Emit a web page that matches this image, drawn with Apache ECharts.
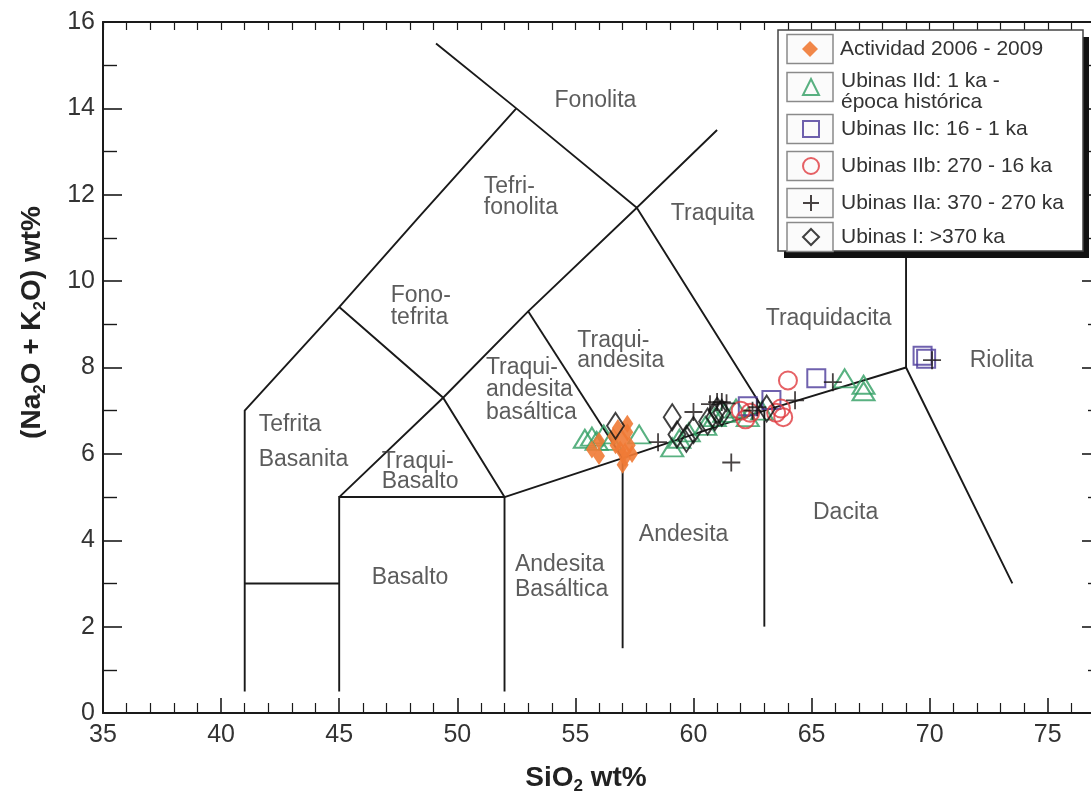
<!DOCTYPE html>
<html>
<head>
<meta charset="utf-8">
<script src="https://cdn.jsdelivr.net/npm/echarts@6/dist/echarts.min.js"></script>
<style>
  html, body { margin: 0; padding: 0; background: #ffffff; }
  #chart { width: 1091px; height: 804px; }
</style>
</head>
<body>
<div id="chart"></div>
<script>
// Diagrama TAS (álcalis total vs. sílice) – volcán Ubinas

// Series names (legend order)
const seriesNames = [
  'Actividad 2006 - 2009',
  'Ubinas IId: 1 ka -\népoca histórica',
  'Ubinas IIc: 16 - 1 ka',
  'Ubinas IIb: 270 - 16 ka',
  'Ubinas IIa: 370 - 270 ka',
  'Ubinas I: >370 ka'
];

// [SiO2 wt%, Na2O+K2O wt%]
const actividad = [
  [55.7, 6.10], [56.0, 6.30], [56.0, 5.95], [56.6, 6.40], [56.8, 6.60],
  [56.9, 6.10], [57.0, 6.35], [57.1, 5.90], [57.2, 6.50], [57.3, 6.20],
  [57.0, 5.75], [57.4, 6.00], [56.7, 6.20], [57.2, 6.70], [57.1, 6.05]
];
const ubinasIId = [
  [55.4, 6.35], [55.7, 6.40], [55.9, 6.30], [56.2, 6.45], [56.5, 6.30],
  [57.7, 6.45], [59.1, 6.15], [59.4, 6.35], [59.8, 6.50], [60.5, 6.65],
  [60.9, 6.85], [61.3, 6.95], [61.8, 7.05], [62.3, 6.85], [62.9, 7.00],
  [66.4, 7.75], [67.2, 7.45], [67.2, 7.60]
];
const ubinasIIc = [
  [62.3, 7.10], [63.3, 7.25], [65.2, 7.75], [69.7, 8.27], [69.85, 8.20]
];
const ubinasIIb = [
  [62.0, 7.00], [62.2, 6.80], [62.4, 6.95], [63.5, 6.95], [63.8, 6.85],
  [63.7, 7.05], [64.0, 7.70]
];
const ubinasIIa = [
  [58.5, 6.27], [60.0, 6.97], [60.7, 7.15], [61.0, 7.20], [61.2, 7.20],
  [61.4, 7.17], [62.5, 7.00], [62.7, 7.08], [61.6, 5.80], [64.3, 7.24],
  [65.9, 7.66], [70.1, 8.17]
];
const ubinasI = [
  [56.7, 6.65], [59.1, 6.85], [59.3, 6.45], [59.7, 6.35], [60.0, 6.55],
  [60.6, 6.75], [60.9, 6.85], [61.2, 6.95], [61.0, 7.00], [63.1, 7.05]
];

// Field boundaries (Le Bas et al., 1986), as polylines in [SiO2, álcalis]
const boundaries = [
  [[41, 0.5], [41, 7], [45, 9.4], [48.4, 11.5], [52.5, 14]],
  [[49.1, 15.5], [52.5, 14], [57.6, 11.7], [61, 13.5]],
  [[41, 3], [45, 3]],
  [[45, 0.5], [45, 5], [52, 5], [52, 0.5]],
  [[45, 5], [49.4, 7.3], [53, 9.3], [57.6, 11.7], [63, 7]],
  [[45, 9.4], [49.4, 7.3], [52, 5]],
  [[53, 9.3], [57, 5.9]],
  [[52, 5], [57, 5.9], [63, 7], [69, 8], [73.5, 3]],
  [[57, 5.9], [57, 1.5]],
  [[63, 7], [63, 2]],
  [[69, 8], [69, 13]]
];

// Field names: [text, SiO2, álcalis, anchor ('c' centred / 'l' left), line height]
const fieldLabels = [
  ['Fonolita', 55.85, 14.19, 'c', 22],
  ['Tefri-\nfonolita', 51.10, 11.94, 'l', 21],
  ['Traquita', 60.81, 11.57, 'c', 22],
  ['Fono-\ntefrita', 47.16, 9.40, 'l', 22],
  ['Traquidacita', 65.72, 9.14, 'c', 22],
  ['Traqui-\nandesita', 55.06, 8.40, 'l', 20],
  ['Traqui-\nandesita\nbasáltica', 51.19, 7.48, 'l', 22.5],
  ['Tefrita\nBasanita', 41.57, 6.27, 'l', 35],
  ['Traqui-\nBasalto', 46.78, 5.58, 'l', 20],
  ['Basalto', 48.0, 3.13, 'c', 22],
  ['Andesita', 59.58, 4.12, 'c', 22],
  ['Andesita\nBasáltica', 52.42, 3.15, 'l', 25],
  ['Dacita', 66.44, 4.63, 'c', 22],
  ['Riolita', 73.05, 8.17, 'c', 22]
];

// Axis tick settings
const xMin = 35, xMax = 77, xStep = 5;
const yMin = 0, yMax = 16, yStep = 2;

const FONT = '"Liberation Sans", Arial, Helvetica, sans-serif';
const INK = '#1a1a1a';

const chart = echarts.init(document.getElementById('chart'), null, { renderer: 'canvas' });

const hollow = (color, width) => ({ color: 'rgba(0,0,0,0)', borderColor: color, borderWidth: width });

const titleRich = {
  b: { fontFamily: FONT, fontSize: 28, fontWeight: 'bold', color: '#222', lineHeight: 34 },
  s: { fontFamily: FONT, fontSize: 17, fontWeight: 'bold', color: '#222', lineHeight: 17, verticalAlign: 'bottom' }
};

// Legend: one entry per legend component, each with its framed icon box
const legendIconY = [49, 87, 129, 166, 203, 237];
const legendLineH = 21;
const legendFirstLineH = 31;
const legendIcon = 16;
const legendText = { fontFamily: FONT, fontSize: 21, color: '#333' };
const legends = seriesNames.map((name, i) => {
  const lines = name.split('\n');
  const twoLines = lines.length > 1;
  const boxH = twoLines ? legendFirstLineH + legendLineH : legendLineH;
  return {
    orient: 'vertical', left: 802, padding: 0,
    top: legendIconY[i] - boxH / 2,
    itemWidth: legendIcon, itemHeight: legendIcon, selectedMode: false, z: 5,
    data: [name],
    formatter: twoLines ? () => '{a|' + lines[0] + '}\n{b|' + lines[1] + '}' : '{name}',
    textStyle: Object.assign({}, legendText, {
      lineHeight: legendLineH,
      padding: [0, 0, 0, 17],
      rich: {
        a: Object.assign({}, legendText, { lineHeight: legendFirstLineH, verticalAlign: 'bottom' }),
        b: Object.assign({}, legendText, { lineHeight: legendLineH })
      }
    })
  };
});
const legendBoxes = legendIconY.map(cy => ({
  type: 'rect', z: 3,
  shape: { x: 787, y: cy - 14.5, width: 46, height: 29 },
  style: { fill: '#fbfbfb', stroke: '#8a8a8a', lineWidth: 1.5 }
}));

const option = {
  backgroundColor: '#ffffff',
  animation: false,
  grid: { left: 103, top: 22, right: -4, bottom: 91, outerBoundsMode: 'none', containLabel: false },
  xAxis: [
    {
      type: 'value', position: 'bottom', min: xMin, max: xMax, interval: xStep,
      name: '{b|SiO}{s|2}{b| wt%}', nameLocation: 'middle', nameGap: 48,
      nameTextStyle: { rich: titleRich, padding: [0, 26, 0, 0] },
      axisLine: { show: true, onZero: false, lineStyle: { color: INK, width: 2 } },
      axisTick: { show: true, inside: true, length: 15, lineStyle: { color: INK, width: 1.6 } },
      minorTick: { show: true, splitNumber: 5, length: 10, lineStyle: { color: INK, width: 1.2 } },
      axisLabel: { show: true, margin: 10, fontFamily: FONT, fontSize: 25, color: '#333', showMaxLabel: false },
      splitLine: { show: false }
    },
    {
      type: 'value', position: 'top', min: xMin, max: xMax, interval: 1,
      axisLine: { show: true, onZero: false, lineStyle: { color: INK, width: 2 } },
      axisTick: { show: true, inside: true, length: 8, lineStyle: { color: INK, width: 1.2 } },
      axisLabel: { show: false },
      splitLine: { show: false }
    }
  ],
  yAxis: [
    {
      type: 'value', position: 'left', min: yMin, max: yMax, interval: yStep,
      name: '{b|(Na}{s|2}{b|O + K}{s|2}{b|O) wt%}', nameLocation: 'middle', nameGap: 54, nameRotate: 90,
      nameTextStyle: { rich: titleRich, padding: [0, 0, 0, 90] },
      axisLine: { show: true, onZero: false, lineStyle: { color: INK, width: 2 } },
      axisTick: { show: true, inside: true, length: 19, lineStyle: { color: INK, width: 1.6 } },
      minorTick: { show: true, splitNumber: 2, length: 14, lineStyle: { color: INK, width: 1.4 } },
      axisLabel: { show: true, margin: 8, fontFamily: FONT, fontSize: 25, color: '#333' },
      splitLine: { show: false }
    },
    {
      type: 'value', position: 'right', min: yMin, max: yMax, interval: yStep,
      axisLine: { show: true, onZero: false, lineStyle: { color: INK, width: 2 } },
      axisTick: { show: true, inside: true, length: 13, lineStyle: { color: INK, width: 1.6 } },
      minorTick: { show: true, splitNumber: 2, length: 7, lineStyle: { color: INK, width: 1.4 } },
      axisLabel: { show: false },
      splitLine: { show: false }
    }
  ],
  legend: legends,
  graphic: [
    { type: 'rect', z: 3, shape: { x: 784, y: 37, width: 305, height: 221 }, style: { fill: '#111' } },
    { type: 'rect', z: 3, shape: { x: 778, y: 30, width: 305, height: 221 }, style: { fill: '#ffffff', stroke: '#444', lineWidth: 1.5 } },
    ...legendBoxes
  ],
  series: [
    {
      type: 'lines', coordinateSystem: 'cartesian2d', polyline: true, silent: true, z: 1,
      lineStyle: { color: INK, width: 1.9, opacity: 1 },
      data: boundaries.map(c => ({ coords: c }))
    },
    {
      type: 'scatter', silent: true, z: 1, symbolSize: 1,
      itemStyle: { color: 'rgba(0,0,0,0)' },
      data: fieldLabels.map(f => ({
        value: [f[1], f[2]], name: f[0],
        label: {
          show: true, formatter: '{b}',
          position: f[3] === 'l' ? 'right' : 'inside', distance: 0,
          align: f[3] === 'l' ? 'left' : 'center',
          fontFamily: FONT, fontSize: 23, color: '#333', lineHeight: f[4]
        }
      }))
    },
    {
      name: seriesNames[1], type: 'scatter', z: 2,
      symbol: 'triangle', symbolSize: [22, 18],
      itemStyle: hollow('#2f9e62', 2),
      data: ubinasIId
    },
    {
      name: seriesNames[0], type: 'scatter', z: 2,
      symbol: 'diamond', symbolSize: [12, 18],
      itemStyle: { color: '#f07a35', opacity: 0.9 },
      data: actividad
    },
    {
      name: seriesNames[2], type: 'scatter', z: 2,
      symbol: 'rect', symbolSize: 18,
      itemStyle: hollow('#4b3a9a', 2),
      data: ubinasIIc
    },
    {
      name: seriesNames[3], type: 'scatter', z: 2,
      symbol: 'circle', symbolSize: 18,
      itemStyle: hollow('#e03a3e', 2),
      data: ubinasIIb
    },
    {
      name: seriesNames[4], type: 'scatter', z: 2,
      symbol: 'path://M0,10 L20,10 M10,0 L10,20', symbolSize: 18,
      itemStyle: hollow('#1a1414', 1.8),
      data: ubinasIIa
    },
    {
      name: seriesNames[5], type: 'scatter', z: 2,
      symbol: 'diamond', symbolSize: [17, 26],
      itemStyle: hollow('#111111', 2),
      data: ubinasI
    }
  ]
};

chart.setOption(option);
</script>
</body>
</html>
